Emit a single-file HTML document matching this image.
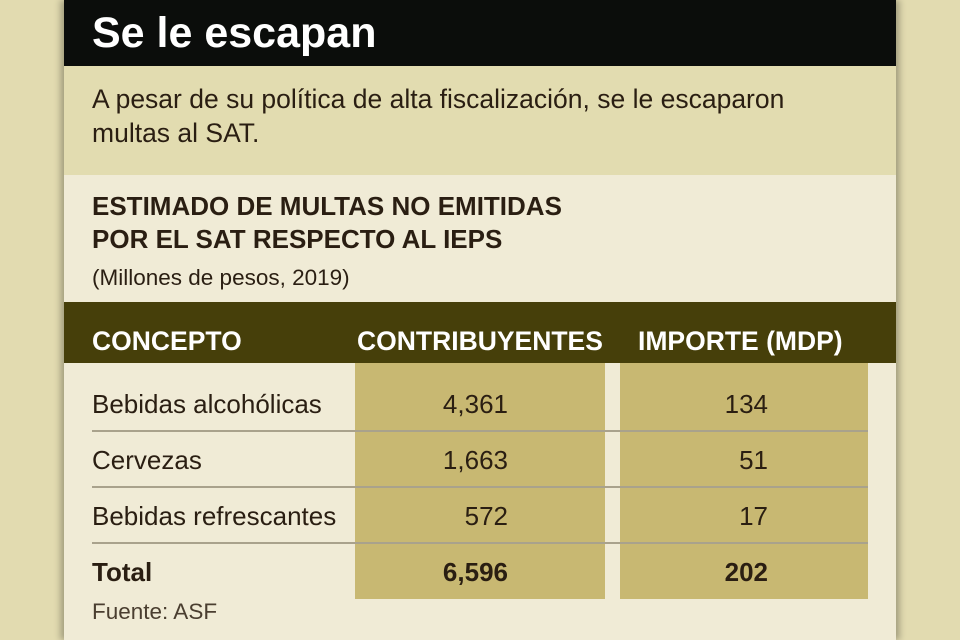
<!DOCTYPE html>
<html><head><meta charset="utf-8"><style>
*{margin:0;padding:0;box-sizing:border-box}
body{width:960px;height:640px;overflow:hidden;background:#e2dbb0;font-family:"Liberation Sans",sans-serif;position:relative;color:#2a1e12}
.card{position:absolute;left:64px;top:0;width:832px;height:640px;background:#f0ebd6;box-shadow:-4px 0 6px rgba(0,0,0,.25),4px 0 6px rgba(0,0,0,.25)}
.hd{position:absolute;left:0;top:0;width:832px;height:66px;background:#0b0d0b;color:#fff;font-weight:bold;font-size:43px;line-height:66px;padding-left:28px}
.sub{position:absolute;left:0;top:66px;width:832px;height:109px;background:#e2dcb0;font-size:26.5px;line-height:34px;padding:16px 0 0 28px}
.t{position:absolute;left:28px;font-size:26px;font-weight:bold;line-height:33px}
.abs{position:absolute}
.band{position:absolute;left:0;top:302px;width:832px;height:61px;background:#463f0a}
.th{position:absolute;top:302px;line-height:78px;height:61px;color:#fff;font-weight:bold;font-size:26.5px}
.gold{position:absolute;top:363px;height:236px;background:#c8b872}
.line{position:absolute;left:28px;width:776px;height:2px;background:#a9a28c}
.c{position:absolute;font-size:26px;line-height:30px}
.r{text-align:right;width:200px}
</style></head><body>
<div class="card">
<div class="hd">Se le escapan</div>
<div class="sub">A pesar de su política de alta fiscalización, se le escaparon<br>multas al SAT.</div>
<div class="t" style="top:190px">ESTIMADO DE MULTAS NO EMITIDAS<br>POR EL SAT RESPECTO AL IEPS</div>
<div class="abs" style="left:28px;top:265px;font-size:22.5px">(Millones de pesos, 2019)</div>
<div class="band"></div>
<div class="th" style="left:28px">CONCEPTO</div>
<div class="th" style="left:293px">CONTRIBUYENTES</div>
<div class="th" style="left:574px">IMPORTE (MDP)</div>
<div class="gold" style="left:291px;width:250px"></div>
<div class="gold" style="left:556px;width:248px"></div>
<div class="line" style="top:430px"></div>
<div class="line" style="top:486px"></div>
<div class="line" style="top:542px"></div>
<div class="c" style="left:28px;top:389px">Bebidas alcohólicas</div>
<div class="c" style="left:28px;top:445px">Cervezas</div>
<div class="c" style="left:28px;top:501px">Bebidas refrescantes</div>
<div class="c" style="left:28px;top:557px;font-weight:bold">Total</div>
<div class="c r" style="left:244px;top:389px">4,361</div>
<div class="c r" style="left:244px;top:445px">1,663</div>
<div class="c r" style="left:244px;top:501px">572</div>
<div class="c r" style="left:244px;top:557px;font-weight:bold">6,596</div>
<div class="c r" style="left:504px;top:389px">134</div>
<div class="c r" style="left:504px;top:445px">51</div>
<div class="c r" style="left:504px;top:501px">17</div>
<div class="c r" style="left:504px;top:557px;font-weight:bold">202</div>
<div class="abs" style="left:28px;top:599px;font-size:22.5px;color:#4a3e30">Fuente: ASF</div>
</div>
</body></html>
